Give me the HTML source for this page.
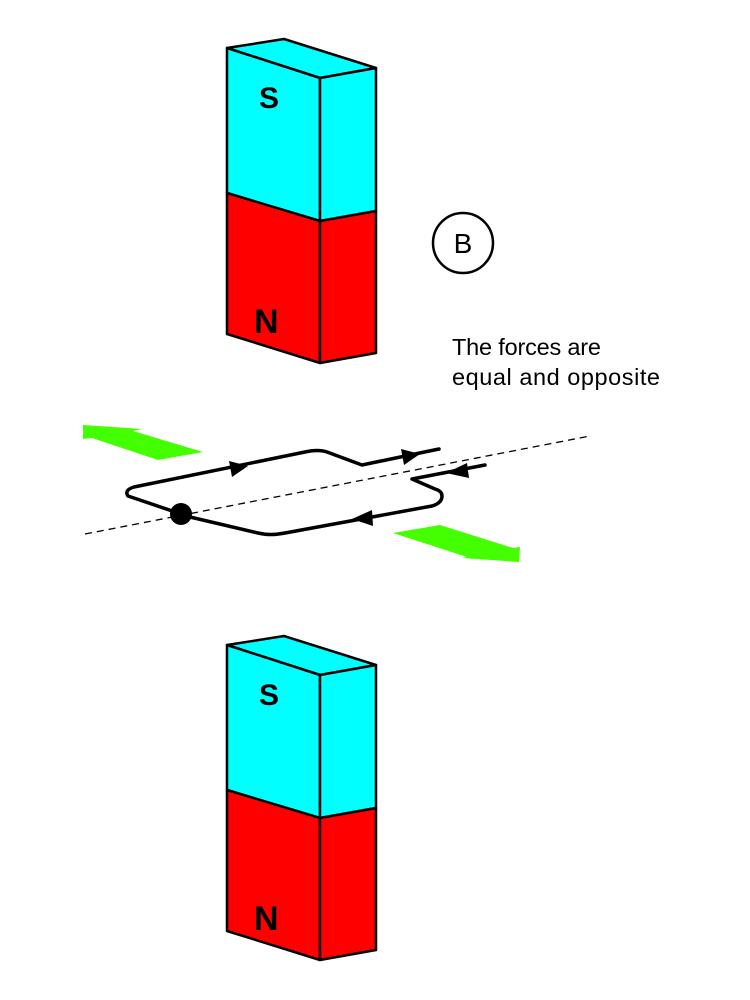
<!DOCTYPE html>
<html><head><meta charset="utf-8"><style>html,body{margin:0;padding:0;background:#fff}svg{display:block}</style></head>
<body>
<svg width="750" height="1000" viewBox="0 0 750 1000" xmlns="http://www.w3.org/2000/svg">
<defs>
<g id="mag" stroke="#000" stroke-width="2.5" stroke-linejoin="round">
  <polygon points="227,48 284,39 376,68 320,78" fill="#00ffff"/>
  <polygon points="227,48 320,78 320,221 227,193" fill="#00ffff"/>
  <polygon points="320,78 376,68 376,211 320,221" fill="#00ffff"/>
  <polygon points="227,193 320,221 320,363 227,334" fill="#ff0000"/>
  <polygon points="320,221 376,211 376,353 320,363" fill="#ff0000"/>
  <text x="259" y="108" font-family="Liberation Sans, sans-serif" font-weight="bold" font-size="30" fill="#000" stroke="none">S</text>
  <text x="254" y="333" font-family="Liberation Sans, sans-serif" font-weight="bold" font-size="34" fill="#000" stroke="none">N</text>
</g>
</defs>
<use href="#mag"/>
<use href="#mag" transform="translate(0,597)"/>
<circle cx="463" cy="243" r="30" fill="none" stroke="#000" stroke-width="2.5"/>
<text x="463" y="253" text-anchor="middle" font-family="Liberation Sans, sans-serif" font-size="28">B</text>
<text x="452" y="355" font-family="Liberation Sans, sans-serif" font-size="23.5" textLength="149">The forces are</text>
<text x="452" y="385" font-family="Liberation Sans, sans-serif" font-size="23.5" textLength="208">equal and opposite</text>
<line x1="85" y1="534" x2="590" y2="436" stroke="#000" stroke-width="1.3" stroke-dasharray="7,5"/>
<polygon points="83,425 142,429 133,431 203,452 158,460 92,438 83,439" fill="#44ff00"/>
<polygon points="393,533 440,525 513,548 520,547 519,562 462,558 467,557" fill="#44ff00"/>
<g fill="none" stroke="#000" stroke-width="3.5" stroke-linejoin="round" stroke-linecap="round">
  <path d="M439,449 L410,455 L362,465 L327,452 Q318,449 305,452 L134,487 Q124,490 128,496 L190,517 L258,533 Q270,536 285,533 L432,506 Q442,503 442,496 Q442,491 435,489 L412,479 L485,465"/>
</g>
<circle cx="181" cy="514" r="11" fill="#000"/>
<g fill="#000">
  <polygon points="248,466 229,461 232,477"/>
  <polygon points="420,454 401,449 404,465"/>
  <polygon points="446,473 467,463 469,478"/>
  <polygon points="352,519 372,510 373,526"/>
</g>
</svg>
</body></html>
